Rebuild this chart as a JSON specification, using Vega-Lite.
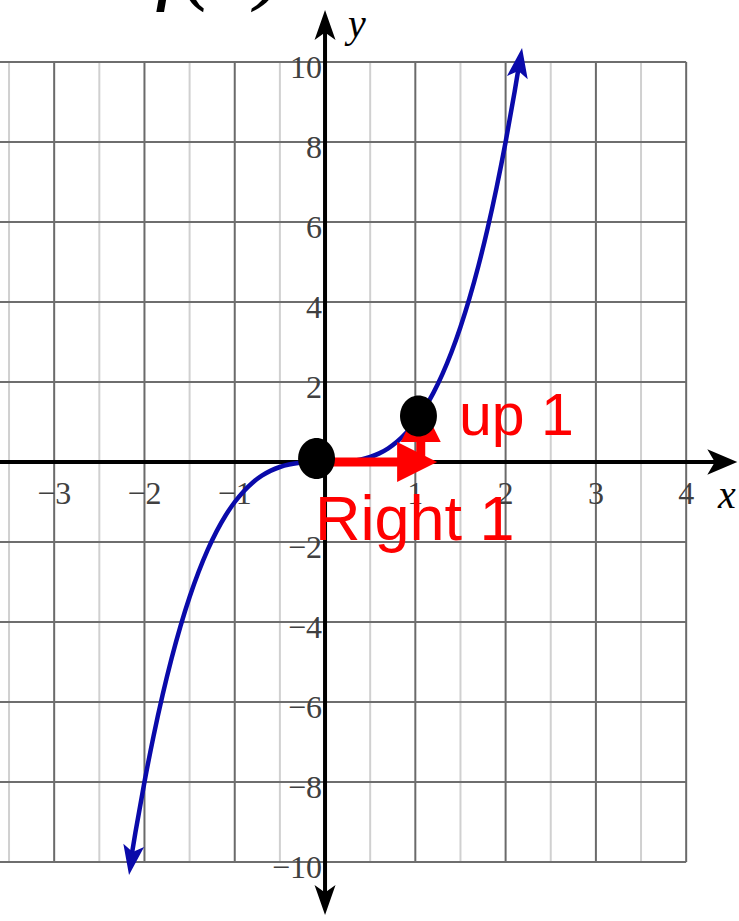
{
  "$schema": "https://vega.github.io/schema/vega-lite/v6.json",
  "width": 739,
  "height": 921,
  "autosize": {"type": "none"},
  "padding": 0,
  "background": "white",
  "config": {"view": {"stroke": null}},
  "datasets": {
    "vlight": [
      {"x": -3.5, "x2": -3.5, "y": -10, "y2": 10},
      {"x": -2.5, "x2": -2.5, "y": -10, "y2": 10},
      {"x": -1.5, "x2": -1.5, "y": -10, "y2": 10},
      {"x": -0.5, "x2": -0.5, "y": -10, "y2": 10},
      {"x": 0.5, "x2": 0.5, "y": -10, "y2": 10},
      {"x": 1.5, "x2": 1.5, "y": -10, "y2": 10},
      {"x": 2.5, "x2": 2.5, "y": -10, "y2": 10},
      {"x": 3.5, "x2": 3.5, "y": -10, "y2": 10}
    ],
    "vdark": [
      {"x": -3, "x2": -3, "y": -10, "y2": 10},
      {"x": -2, "x2": -2, "y": -10, "y2": 10},
      {"x": -1, "x2": -1, "y": -10, "y2": 10},
      {"x": 1, "x2": 1, "y": -10, "y2": 10},
      {"x": 2, "x2": 2, "y": -10, "y2": 10},
      {"x": 3, "x2": 3, "y": -10, "y2": 10},
      {"x": 4, "x2": 4, "y": -10, "y2": 10}
    ],
    "hdark": [
      {"x": -3.6, "x2": 4, "y": 10, "y2": 10},
      {"x": -3.6, "x2": 4, "y": 8, "y2": 8},
      {"x": -3.6, "x2": 4, "y": 6, "y2": 6},
      {"x": -3.6, "x2": 4, "y": 4, "y2": 4},
      {"x": -3.6, "x2": 4, "y": 2, "y2": 2},
      {"x": -3.6, "x2": 4, "y": -2, "y2": -2},
      {"x": -3.6, "x2": 4, "y": -4, "y2": -4},
      {"x": -3.6, "x2": 4, "y": -6, "y2": -6},
      {"x": -3.6, "x2": 4, "y": -8, "y2": -8},
      {"x": -3.6, "x2": 4, "y": -10, "y2": -10}
    ],
    "axes": [
      {"x": -3.6, "x2": 4.4, "y": 0, "y2": 0},
      {"x": 0, "x2": 0, "y": -10.95, "y2": 10.925}
    ],
    "xlabels": [
      {"x": -3, "y": 0, "label": "−3"},
      {"x": -2, "y": 0, "label": "−2"},
      {"x": -1, "y": 0, "label": "−1"},
      {"x": 1, "y": 0, "label": "1"},
      {"x": 2, "y": 0, "label": "2"},
      {"x": 3, "y": 0, "label": "3"},
      {"x": 4, "y": 0, "label": "4"}
    ],
    "ylabels": [
      {"x": 0, "y": 10, "label": "10"},
      {"x": 0, "y": 8, "label": "8"},
      {"x": 0, "y": 6, "label": "6"},
      {"x": 0, "y": 4, "label": "4"},
      {"x": 0, "y": 2, "label": "2"},
      {"x": 0, "y": -2, "label": "−2"},
      {"x": 0, "y": -4, "label": "−4"},
      {"x": 0, "y": -6, "label": "−6"},
      {"x": 0, "y": -8, "label": "−8"},
      {"x": 0, "y": -10, "label": "−10"}
    ],
    "curve": [
      {"x": -2.15, "y": -9.938},
      {"x": -2.1, "y": -9.261},
      {"x": -2.0, "y": -8.0},
      {"x": -1.9, "y": -6.859},
      {"x": -1.8, "y": -5.832},
      {"x": -1.7, "y": -4.913},
      {"x": -1.6, "y": -4.096},
      {"x": -1.5, "y": -3.375},
      {"x": -1.4, "y": -2.744},
      {"x": -1.3, "y": -2.197},
      {"x": -1.2, "y": -1.728},
      {"x": -1.1, "y": -1.331},
      {"x": -1.0, "y": -1.0},
      {"x": -0.9, "y": -0.729},
      {"x": -0.8, "y": -0.512},
      {"x": -0.7, "y": -0.343},
      {"x": -0.6, "y": -0.216},
      {"x": -0.5, "y": -0.125},
      {"x": -0.4, "y": -0.064},
      {"x": -0.3, "y": -0.027},
      {"x": -0.2, "y": -0.008},
      {"x": -0.1, "y": -0.001},
      {"x": 0.0, "y": 0.0},
      {"x": 0.1, "y": 0.001},
      {"x": 0.2, "y": 0.008},
      {"x": 0.3, "y": 0.027},
      {"x": 0.4, "y": 0.064},
      {"x": 0.5, "y": 0.125},
      {"x": 0.6, "y": 0.216},
      {"x": 0.7, "y": 0.343},
      {"x": 0.8, "y": 0.512},
      {"x": 0.9, "y": 0.729},
      {"x": 1.0, "y": 1.0},
      {"x": 1.1, "y": 1.331},
      {"x": 1.2, "y": 1.728},
      {"x": 1.3, "y": 2.197},
      {"x": 1.4, "y": 2.744},
      {"x": 1.5, "y": 3.375},
      {"x": 1.6, "y": 4.096},
      {"x": 1.7, "y": 4.913},
      {"x": 1.8, "y": 5.832},
      {"x": 1.9, "y": 6.859},
      {"x": 2.0, "y": 8.0},
      {"x": 2.1, "y": 9.261},
      {"x": 2.15, "y": 9.938}
    ]
  },
  "encoding": {
    "x": {"field": "x", "type": "quantitative", "scale": {"domain": [-3.6, 4.585], "nice": false, "zero": false}, "axis": null},
    "y": {"field": "y", "type": "quantitative", "scale": {"domain": [-11.475, 11.55], "nice": false, "zero": false}, "axis": null}
  },
  "layer": [
    {
      "data": {"name": "vlight"},
      "mark": {"type": "rule", "color": "#d0d0d0", "strokeWidth": 2},
      "encoding": {"x2": {"field": "x2"}, "y2": {"field": "y2"}}
    },
    {
      "data": {"name": "vdark"},
      "mark": {"type": "rule", "color": "#6a6a6a", "strokeWidth": 2},
      "encoding": {"x2": {"field": "x2"}, "y2": {"field": "y2"}}
    },
    {
      "data": {"name": "hdark"},
      "mark": {"type": "rule", "color": "#6e6e6e", "strokeWidth": 2.2},
      "encoding": {"x2": {"field": "x2"}, "y2": {"field": "y2"}}
    },
    {
      "data": {"name": "axes"},
      "mark": {"type": "rule", "color": "#000000", "strokeWidth": 4},
      "encoding": {"x2": {"field": "x2"}, "y2": {"field": "y2"}}
    },
    {
      "data": {"values": [{"x": 4.4, "y": 0}]},
      "mark": {"type": "point", "shape": "M 0,-1 L 0.85,1 L 0,0.5 L -0.85,1 Z", "filled": true, "color": "#000000", "opacity": 1, "size": 900, "angle": 90}
    },
    {
      "data": {"values": [{"x": 0, "y": 10.925}]},
      "mark": {"type": "point", "shape": "M 0,-1 L 0.7,1 L 0,0.5 L -0.7,1 Z", "filled": true, "color": "#000000", "opacity": 1, "size": 900, "angle": 0}
    },
    {
      "data": {"values": [{"x": 0, "y": -10.95}]},
      "mark": {"type": "point", "shape": "M 0,-1 L 0.7,1 L 0,0.5 L -0.7,1 Z", "filled": true, "color": "#000000", "opacity": 1, "size": 900, "angle": 180}
    },
    {
      "data": {"name": "xlabels"},
      "mark": {"type": "text", "font": "Liberation Serif", "fontSize": 32, "color": "#404040", "align": "center", "baseline": "alphabetic", "dy": 42},
      "encoding": {"text": {"field": "label"}}
    },
    {
      "data": {"name": "ylabels"},
      "mark": {"type": "text", "font": "Liberation Serif", "fontSize": 32, "color": "#404040", "align": "right", "baseline": "alphabetic", "dx": -3, "dy": 16},
      "encoding": {"text": {"field": "label"}}
    },
    {
      "data": {"values": [{"x": 4.45, "y": -1.15, "label": "x"}, {"x": 0.354, "y": 10.625, "label": "y"}]},
      "mark": {"type": "text", "font": "Liberation Serif", "fontStyle": "italic", "fontSize": 40, "color": "#000000", "align": "center", "baseline": "alphabetic"},
      "encoding": {"text": {"field": "label"}}
    },
    {
      "data": {"name": "curve"},
      "mark": {"type": "line", "color": "#0a0aaa", "strokeWidth": 4.5, "interpolate": "monotone"}
    },
    {
      "data": {"values": [{"x": 2.156, "y": 9.98}]},
      "mark": {"type": "point", "shape": "M 0,-1 L 0.7,1 L 0,0.55 L -0.7,1 Z", "filled": true, "color": "#0a0aaa", "opacity": 1, "size": 900, "angle": 9}
    },
    {
      "data": {"values": [{"x": -2.145, "y": -9.955}]},
      "mark": {"type": "point", "shape": "M 0,-1 L 0.7,1 L 0,0.55 L -0.7,1 Z", "filled": true, "color": "#0a0aaa", "opacity": 1, "size": 900, "angle": 189}
    },
    {
      "data": {"values": [{"x": 0, "x2": 0.85, "y": 0, "y2": 0}, {"x": 1.06, "x2": 1.06, "y": 0, "y2": 0.6}]},
      "mark": {"type": "rule", "color": "#ff0000", "strokeWidth": 9},
      "encoding": {"x2": {"field": "x2"}, "y2": {"field": "y2"}}
    },
    {
      "data": {"values": [{"x": 1.02, "y": 0}]},
      "mark": {"type": "point", "shape": "M 0,-1 L 1,1 L -1,1 Z", "filled": true, "color": "#ff0000", "opacity": 1, "size": 1600, "angle": 90}
    },
    {
      "data": {"values": [{"x": 1.06, "y": 1.0}]},
      "mark": {"type": "point", "shape": "M 0,-1 L 1,1 L -1,1 Z", "filled": true, "color": "#ff0000", "opacity": 1, "size": 1600, "angle": 0}
    },
    {
      "data": {"values": [{"x": -0.094, "y": 0.09}, {"x": 1.035, "y": 1.15}]},
      "mark": {"type": "point", "shape": "M 0.9,0 C 0.9,0.5523 0.497,1 0,1 C -0.497,1 -0.9,0.5523 -0.9,0 C -0.9,-0.5523 -0.497,-1 0,-1 C 0.497,-1 0.9,-0.5523 0.9,0 Z", "filled": true, "color": "#000000", "opacity": 1, "size": 1681}
    },
    {
      "data": {"values": [{"x": 1.484, "y": 0.675, "label": "up 1"}]},
      "mark": {"type": "text", "font": "Liberation Sans", "fontSize": 59, "color": "#ff0000", "align": "left", "baseline": "alphabetic"},
      "encoding": {"text": {"field": "label"}}
    },
    {
      "data": {"values": [{"x": -0.111, "y": -1.95, "label": "Right 1"}]},
      "mark": {"type": "text", "font": "Liberation Sans", "fontSize": 63, "color": "#ff0000", "align": "left", "baseline": "alphabetic"},
      "encoding": {"text": {"field": "label"}}
    },
    {
      "data": {"values": [{"x": -1.88, "y": 11.75, "label": "f(x)"}]},
      "mark": {"type": "text", "font": "Liberation Serif", "fontStyle": "italic", "fontSize": 95, "color": "#000000", "align": "left", "baseline": "alphabetic"},
      "encoding": {"text": {"field": "label"}}
    }
  ]
}
